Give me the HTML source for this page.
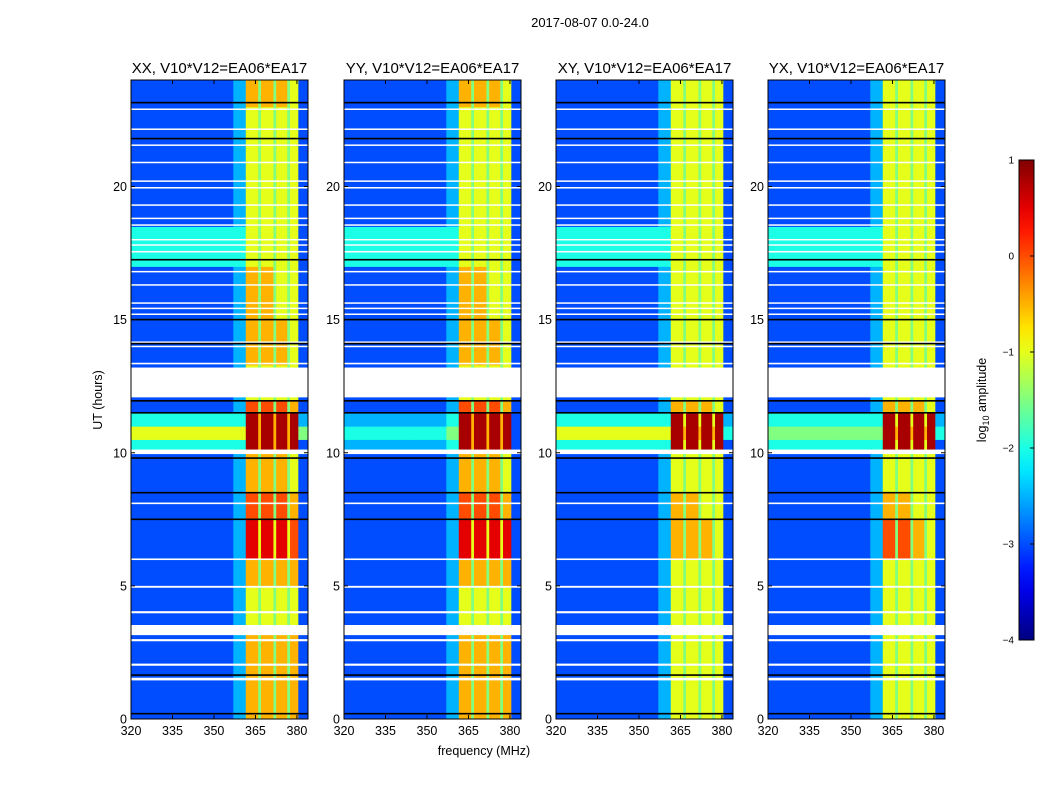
<!DOCTYPE html>
<html><head><meta charset="utf-8"><style>
body{margin:0;background:#fff;}
svg text{font-family:"Liberation Sans",sans-serif;fill:#000;}
</style></head><body>
<svg id="c" width="1050" height="800" xmlns="http://www.w3.org/2000/svg"></svg>
<script>
// frequency bin edges (MHz)
const freqEdges = [320,345,357,361.5,366,367,371.5,372.5,376.5,377.5,380.5,384];
// time segment edges (hours)
const timeEdges = [0,1.5,3.5,4,5,6,7.5,8.5,10,10.5,11,11.5,12,13.3,15,17,18.5,20,23,24];
// codes: digit d -> log10 amplitude -4 + d*0.5 ; 'a' -> 0.8
const panelTitles = ["XX, V10*V12=EA06*EA17","YY, V10*V12=EA06*EA17","XY, V10*V12=EA06*EA17","YX, V10*V12=EA06*EA17"];
const rowsXX = ["22375757572","22375757572","22365656562","22365656562","22375757572","22396969682","22385858572","22375757562","444a7a7a7a2","666a7a7a7a5","444a7a7a7a3","22385858572","22365656562","22375757562","22375756562","44465656562","22365656562","22365656562","22375757562"];
const rowsYY = ["22375757572","22375757572","22365656562","22365656562","22375757572","22396969692","22385858572","22375757562","334a7a7a7a2","445a7a7a7a2","334a7a7a7a2","22385858572","22365656562","22375757562","22375756562","44465656562","22365656562","22365656562","22375757562"];
const rowsXY = ["22365656562","22365656562","22365656562","22365656562","22365656562","22375757562","22375756562","22365656562","444a6a6a6a2","666a7a7a7a4","444a6a6a6a3","22375757562","22365656562","22365656562","22365656562","44465656562","22365656562","22365656562","22365656562"];
const rowsYX = ["22365656562","22365656562","22365656562","22365656562","22365656562","22385857562","22375756562","22365656562","444a6a6a6a2","555a7a7a7a4","444a6a6a6a3","22375757562","22365656562","22365656562","22365656562","44465656562","22365656562","22365656562","22365656562"];
const panelRows = [rowsXX,rowsYY,rowsXY,rowsYX];
// white (no data) gaps [start,end] hours
const gaps = [[1.45,1.55],[2.0,2.08],[2.92,3.0],[3.15,3.53],[3.97,4.05],[4.93,5.0],[5.97,6.03],[8.07,8.13],[9.95,10.12],[12.08,13.2],[13.32,13.38],[13.97,14.02],[14.13,14.18],[15.18,15.23],[15.4,15.45],[15.6,15.65],[16.28,16.33],[16.78,16.83],[17.52,17.58],[17.78,17.83],[17.98,18.03],[18.53,18.58],[18.78,18.83],[19.28,19.33],[19.93,19.98],[20.18,20.23],[20.88,20.93],[21.53,21.58],[22.13,22.18],[22.88,22.93]];
// flagged black lines (hours)
const blackLines = [0.2,1.65,7.5,8.5,9.8,11.5,11.95,14.1,15.0,17.25,21.8,23.15];
const xTicks = [320,335,350,365,380];
const yTicks = [0,5,10,15,20];
const cbTicks = [1,0,-1,-2,-3,-4];
const cbTickLabels = ["1","0","\u22121","\u22122","\u22123","\u22124"];

const NS="http://www.w3.org/2000/svg";
const svg=document.getElementById('c');
function mk(tag,attrs,parent){const e=document.createElementNS(NS,tag);for(const k in attrs)e.setAttribute(k,attrs[k]);(parent||svg).appendChild(e);return e;}
function cl(v){return Math.max(0,Math.min(1,v));}
function jet(v){const t=cl((v+4)/5);const r=cl(1.5-Math.abs(4*t-3)),g=cl(1.5-Math.abs(4*t-2)),b=cl(1.5-Math.abs(4*t-1));return `rgb(${Math.round(r*255)},${Math.round(g*255)},${Math.round(b*255)})`;}
function codeVal(ch){return ch==='a'?0.8:-4+parseInt(ch,10)*0.5;}

const panelX=[131,344,556,768], PW=177, PT=80, PB=719;
const fmin=320,fmax=384,tmax=24;

const title=mk('text',{x:590,y:27,'font-size':13,'text-anchor':'middle'});


title.textContent="2017-08-07 0.0-24.0";

panelX.forEach((px,pi)=>{
  const xs=f=>px+(f-fmin)/(fmax-fmin)*PW;
  const ys=h=>PB-h/tmax*(PB-PT);
  const g=mk('g',{});
  
  
  const rows=panelRows[pi];
  for(let r=0;r<timeEdges.length-1;r++){
    const codes=rows[r]||rows[rows.length-1];
    for(let c=0;c<freqEdges.length-1;c++){
      const ch=codes[c]||codes[codes.length-1];
      const x0=xs(freqEdges[c]),x1=xs(freqEdges[c+1]);
      const y0=ys(timeEdges[r+1]),y1=ys(timeEdges[r]);
      const cell=mk('rect',{x:x0,y:y0,width:x1-x0+0.5,height:y1-y0+0.5,fill:jet(codeVal(ch))},g);
      
      
    }
  }
  gaps.forEach(gp=>{const y0=ys(gp[1]),y1=ys(gp[0]);
    const e=mk('rect',{x:px,y:y0,width:PW,height:Math.max(1.5,y1-y0),fill:'#fff'},g);
    
    });
  blackLines.forEach(h=>{const e=mk('rect',{x:px,y:ys(h)-0.8,width:PW,height:1.6,fill:'#000'},g);
    
    });
  const fr=mk('rect',{x:px,y:PT,width:PW,height:PB-PT,fill:'none',stroke:'#000','stroke-width':1},g);
  
  
  xTicks.forEach(t=>{const x=xs(t);
    mk('line',{x1:x,x2:x,y1:PB,y2:PB-4,stroke:'#000'},g);mk('line',{x1:x,x2:x,y1:PT,y2:PT+4,stroke:'#000'},g);
    const l=mk('text',{x:x,y:PB+16,'font-size':12.5,'text-anchor':'middle'},g);
    
    
    l.textContent=t;});
  yTicks.forEach(t=>{const y=ys(t);
    mk('line',{x1:px,x2:px+4,y1:y,y2:y,stroke:'#000'},g);mk('line',{x1:px+PW,x2:px+PW-4,y1:y,y2:y,stroke:'#000'},g);
    const l=mk('text',{x:px-4,y:y+4.5,'font-size':12.5,'text-anchor':'end'},g);
    
    
    l.textContent=t;});
  const pt=mk('text',{x:px+PW/2,y:73,'font-size':15,'text-anchor':'middle'},g);
  
  
  pt.textContent=panelTitles[pi];
});

const yl=mk('text',{x:0,y:0,'font-size':12.5,'text-anchor':'middle',transform:'translate(102,400) rotate(-90)'});


yl.textContent="UT (hours)";
const xl=mk('text',{x:484,y:755,'font-size':12.5,'text-anchor':'middle'});


xl.textContent="frequency (MHz)";

// colorbar
const cbX=1019,cbW=15,cbT=160,cbB=640;
const defs=mk('defs',{});
const grad=mk('linearGradient',{id:'jetg',x1:0,y1:1,x2:0,y2:0},defs);
for(let i=0;i<=20;i++){mk('stop',{offset:i/20,'stop-color':jet(-4+5*i/20)},grad);}
const cb=mk('rect',{x:cbX,y:cbT,width:cbW,height:cbB-cbT,fill:'url(#jetg)',stroke:'#000','stroke-width':1});


cbTicks.forEach((t,i)=>{const y=cbB-(t+4)/5*(cbB-cbT);
  mk('line',{x1:cbX+cbW-4,x2:cbX+cbW,y1:y,y2:y,stroke:'#000'});
  const l=mk('text',{x:cbX-5,y:y+3.5,'font-size':10,'text-anchor':'end'});
  
  
  l.textContent=cbTickLabels[i];});
const cl2=mk('text',{x:0,y:0,'font-size':12.5,'text-anchor':'middle',transform:'translate(986,400) rotate(-90)'});


cl2.innerHTML='log<tspan font-size="9" dy="3">10</tspan><tspan dy="-3"> amplitude</tspan>';
</script>
</body></html>
